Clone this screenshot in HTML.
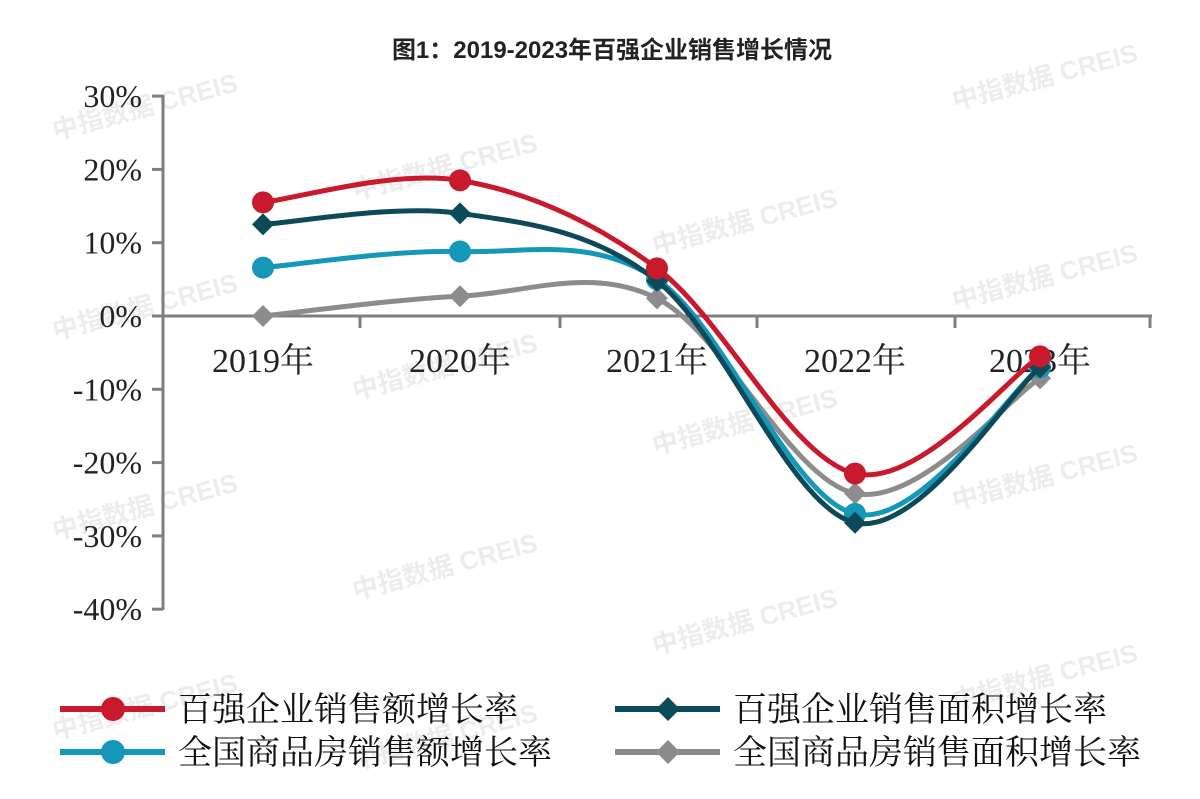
<!DOCTYPE html>
<html><head><meta charset="utf-8"><style>
body{margin:0;background:#fff;}
svg{display:block}
.t{font-family:"Liberation Serif","Noto Serif CJK SC",serif;font-size:32px;fill:#222}
.y{font-family:"Liberation Serif","Noto Serif CJK SC",serif;font-size:34px;fill:#222}
.l{font-family:"Liberation Serif","Noto Serif CJK SC",serif;font-size:34px;fill:#111}
.w{font-family:"Liberation Sans","Noto Sans CJK SC",sans-serif;font-size:26px;font-weight:bold;fill:#000;opacity:0.07}
</style></head><body>
<svg id="s" width="1200" height="799" viewBox="0 0 1200 799">
<text x="612" y="58" text-anchor="middle" style="font-family:'Liberation Sans','Noto Sans CJK SC',sans-serif;font-size:24px;font-weight:bold" fill="#222">图1：2019-2023年百强企业销售增长情况</text>
<g id="wm"></g>
<g stroke="#7f7f7f" stroke-width="3" fill="none">
<line x1="163" y1="95" x2="163" y2="610"/>
<line x1="152" y1="316" x2="1152" y2="316"/>
</g>
<g id="ax"></g>
<g id="ser"></g>
<g id="leg"></g>
</svg>
<script>
var NS="http://www.w3.org/2000/svg",s=document.getElementById('s');
function el(t,a,p,txt){var e=document.createElementNS(NS,t);for(var k in a)e.setAttribute(k,a[k]);if(txt)e.textContent=txt;document.getElementById(p).appendChild(e);return e;}
var wp=[[55,140],[355,200],[655,255],[955,110],[55,340],[355,400],[655,455],[955,310],[55,540],[355,600],[655,655],[955,510],[55,740],[355,770],[955,710]];
wp.forEach(function(p){el('text',{x:p[0],y:p[1],'class':'w',transform:'rotate(-15 '+p[0]+' '+p[1]+')'},'wm','中指数据  CREIS');});
var Y=function(v){return 316-v*7.33;};
for(var v=30;v>=-40;v-=10){var y=Y(v);el('line',{x1:152,y1:y,x2:163,y2:y,stroke:'#7f7f7f','stroke-width':3},'ax');
el('text',{x:142,y:y+11,'text-anchor':'end','class':'t'},'ax',v+'%');}
[163,360,560,757,955,1150].forEach(function(x){el('line',{x1:x,y1:316,x2:x,y2:328,stroke:'#7f7f7f','stroke-width':3},'ax');});
var X=[263,460,657,855,1040];
['2019年','2020年','2021年','2022年','2023年'].forEach(function(t,i){el('text',{x:X[i],y:372,'text-anchor':'middle','class':'y'},'ax',t);});
var S=[
{c:'#c8192d',d:[15.5,18.5,6.5,-21.5,-5.5],m:'c'},
{c:'#0c4a5a',d:[12.5,14,4.8,-28.2,-7],m:'d'},
{c:'#1497b8',d:[6.6,8.8,5,-27,-7],m:'c'},
{c:'#8c8c8c',d:[0,2.7,2.4,-24.2,-8.5],m:'d'}];
function path(P){var d='M'+P[0][0]+','+P[0][1];for(var i=0;i<P.length-1;i++){var p0=P[i-1]||P[i],p1=P[i],p2=P[i+1],p3=P[i+2]||p2,k=1/6;
d+=' C'+(p1[0]+(p2[0]-p0[0])*k)+','+(p1[1]+(p2[1]-p0[1])*k)+' '+(p2[0]-(p3[0]-p1[0])*k)+','+(p2[1]-(p3[1]-p1[1])*k)+' '+p2[0]+','+p2[1];}return d;}
function mark(x,y,c,m,g,r){if(m=='c')el('circle',{cx:x,cy:y,r:r,fill:c},g);else el('polygon',{points:(x)+','+(y-r-2)+' '+(x+r+2)+','+y+' '+x+','+(y+r+2)+' '+(x-r-2)+','+y,fill:c},g);}
[3,2,1,0].forEach(function(i){var o=S[i],P=o.d.map(function(v,j){return [X[j],Y(v)];});
el('path',{d:path(P),fill:'none',stroke:o.c,'stroke-width':5},'ser');
P.forEach(function(p){mark(p[0],p[1],o.c,o.m,'ser',o.m=='c'?11:9);});});
var L=[['百强企业销售额增长率',60,709],['百强企业销售面积增长率',615,709],['全国商品房销售额增长率',60,752],['全国商品房销售面积增长率',615,752]];
L.forEach(function(l,i){var o=S[i];el('line',{x1:l[1],y1:l[2],x2:l[1]+105,y2:l[2],stroke:o.c,'stroke-width':6},'leg');
mark(l[1]+53,l[2],o.c,o.m,'leg',o.m=='c'?12:10);
el('text',{x:l[1]+118,y:l[2]+12,'class':'l'},'leg',l[0]);});
</script>
</body></html>
